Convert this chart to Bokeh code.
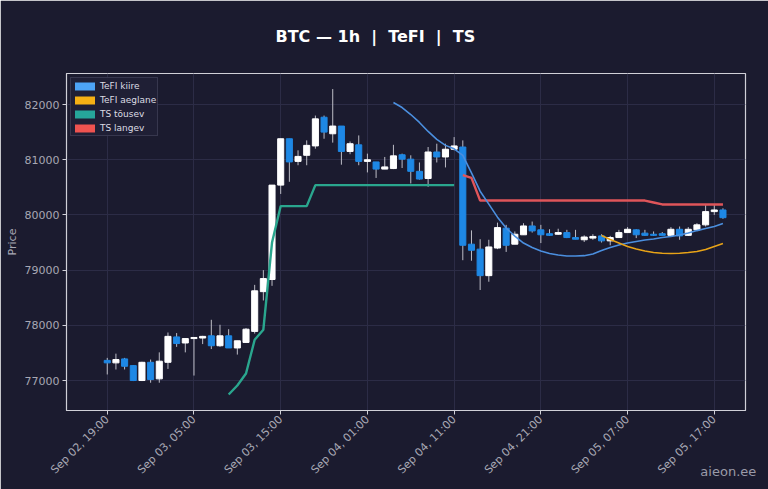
from bokeh.plotting import figure
from bokeh.models import FixedTicker, Range1d, Legend, LegendItem, ColumnDataSource
from bokeh.embed import file_html
from bokeh.resources import INLINE

# ---- data (hourly candles, hour 0 = Sep 02, 19:00) ----
tick_hours = [0, 10, 20, 30, 40, 50, 60, 70]
tick_labels = ["Sep 02, 19:00", "Sep 03, 05:00", "Sep 03, 15:00", "Sep 04, 01:00",
               "Sep 04, 11:00", "Sep 04, 21:00", "Sep 05, 07:00", "Sep 05, 17:00"]
price_ticks = [77000, 78000, 79000, 80000, 81000, 82000]

opens = [77365, 77320, 77392, 77270, 77000, 77330, 77030, 77330, 77790, 77680,
         77760, 77770, 77810, 77630, 77810, 77590, 77690, 77890, 78610, 78830,
         80540, 81380, 80970, 81080, 81250, 81770, 81470, 81610, 81150, 81270,
         80970, 80960, 80830, 80840, 81090, 81010, 80790, 80660, 81140, 81050,
         81190, 81230, 79470, 79380, 78900, 79400, 79760, 79470, 79640, 79800,
         79730, 79660, 79650, 79680, 79590, 79550, 79580, 79620, 79530, 79590,
         79680, 79730, 79670, 79650, 79660, 79630, 79740, 79630, 79730, 79820,
         80060, 80090]
highs = [77410, 77487, 77410, 77280, 77340, 77380, 77510, 77870, 77860, 77760,
         77780, 77810, 78100, 78010, 77930, 77720, 77950, 78733, 79000, 80540,
         81380, 81380, 81170, 81350, 81800, 81800, 82280, 81610, 81330, 81440,
         81110, 80960, 81050, 81270, 81110, 81080, 80950, 81230, 81290, 81290,
         81410, 81350, 79720, 79560, 79550, 79860, 79820, 79700, 79850, 79880,
         79820, 79740, 79750, 79730, 79730, 79630, 79650, 79650, 79620, 79730,
         79780, 79740, 79730, 79700, 79690, 79780, 79790, 79780, 79850, 80190,
         80180, 80120]
lows = [77110, 77200, 77200, 76990, 76990, 76960, 76960, 77210, 77610, 77510,
        77090, 77660, 77570, 77610, 77590, 77470, 77690, 77850, 78450, 78715,
        80380, 80600, 80900, 80900, 81200, 81380, 81310, 80910, 81100, 80900,
        80770, 80670, 80830, 80830, 80850, 80570, 80640, 80510, 80950, 80860,
        81170, 79180, 79170, 78640, 78790, 79380, 79330, 79470, 79640, 79680,
        79490, 79620, 79640, 79580, 79560, 79510, 79550, 79500, 79450, 79590,
        79680, 79580, 79620, 79620, 79630, 79630, 79550, 79620, 79710, 79790,
        80000, 79930]
closes = [77320, 77380, 77258, 77000, 77330, 77018, 77350, 77800, 77670, 77760,
          77780, 77800, 77630, 77810, 77590, 77720, 77930, 78625, 78847, 80540,
          81380, 80960, 81060, 81260, 81740, 81500, 81610, 81150, 81290, 80970,
          81000, 80830, 80870, 81070, 81010, 80790, 80650, 81140, 81050, 81190,
          81250, 79450, 79360, 78900, 79420, 79770, 79450, 79650, 79800, 79710,
          79640, 79630, 79680, 79590, 79560, 79600, 79610, 79530, 79590, 79680,
          79740, 79640, 79630, 79630, 79630, 79740, 79620, 79740, 79820, 80060,
          80090, 79950]

# TeFI kiire (fast) starts at hour 33
tefi_fast_start = 33
tefi_fast = [82036, 81946, 81819, 81675, 81512, 81368, 81260, 81197, 81079, 80763,
             80430, 80195, 79960, 79762, 79617, 79491, 79410, 79347, 79301, 79274,
             79256, 79256, 79262, 79292, 79355, 79410, 79455, 79491, 79518, 79545,
             79563, 79590, 79608, 79635, 79671, 79716, 79753, 79789, 79843]
# TeFI aeglane (slow) starts at hour 57
tefi_slow_start = 57
tefi_slow = [79626, 79554, 79491, 79428, 79383, 79347, 79319, 79305, 79301, 79305,
             79319, 79337, 79374, 79428, 79482]
# TS tõusev (up) starts at hour 14
ts_up_start = 14
ts_up = [76747, 76910, 77126, 77740, 77920, 79500, 80160, 80160, 80160, 80160,
         80540, 80540, 80540, 80540, 80540, 80540, 80540, 80540, 80540, 80540,
         80540, 80540, 80540, 80540, 80540, 80540, 80540]
# TS langev (down) starts at hour 41
ts_down_start = 41
ts_down = [80720, 80670, 80260, 80260, 80260, 80260, 80260, 80260, 80260, 80260,
           80260, 80260, 80260, 80260, 80260, 80260, 80260, 80260, 80260, 80260,
           80260, 80260, 80225, 80190, 80190, 80190, 80190, 80190, 80190, 80190,
           80190]

title_text = "BTC \u2014 1h \u00a0|\u00a0 TeFI \u00a0|\u00a0 TS"
legend_names = ["TeFI kiire", "TeFI aeglane", "TS t\u00f5usev", "TS langev"]
watermark_text = "aieon.ee"

# ---- styling ----
BG = "#1b1b2f"
UP = "#ffffff"
DOWN = "#1e88e5"
WICK = "#bdbdc6"
TXT = "#a8a8b4"

p = figure(width=768, height=489, output_backend="svg", toolbar_location=None,
           x_range=Range1d(-4.7, 73.6), y_range=Range1d(76457, 82562),
           min_border_left=66, min_border_right=23, min_border_top=73, min_border_bottom=79)
p.background_fill_color = BG
p.border_fill_color = BG
p.outline_line_color = "#d0d0d8"
p.outline_line_width = 1.2

p.title.text = title_text
p.title.text_color = "#ffffff"
p.title.text_font = "DejaVu Sans"
p.title.text_font_size = "16px"
p.title.text_font_style = "bold"
p.title.align = "left"
p.title.offset = 209
p.title.vertical_align = "top"
p.title.standoff = 52

n = len(opens)
xs = list(range(n))
up_idx = [i for i in xs if closes[i] >= opens[i]]
dn_idx = [i for i in xs if closes[i] < opens[i]]

wick_src = ColumnDataSource(dict(x=xs, low=lows, high=highs))
p.segment(x0="x", y0="low", x1="x", y1="high", source=wick_src, line_color=WICK, line_width=1)

up_src = ColumnDataSource(dict(x=[xs[i] for i in up_idx],
                               top=[closes[i] for i in up_idx],
                               bottom=[opens[i] for i in up_idx]))
dn_src = ColumnDataSource(dict(x=[xs[i] for i in dn_idx],
                               top=[opens[i] for i in dn_idx],
                               bottom=[closes[i] for i in dn_idx]))
p.vbar(x="x", top="top", bottom="bottom", width=0.7, source=up_src,
       fill_color=UP, line_color=UP, line_width=1)
p.vbar(x="x", top="top", bottom="bottom", width=0.7, source=dn_src,
       fill_color=DOWN, line_color=DOWN, line_width=1)

C_FAST, C_SLOW, C_UP, C_DN = "#4b8fdf", "#e8a317", "#2aa68e", "#e0555a"
p.line(list(range(ts_up_start, ts_up_start + len(ts_up))), ts_up, line_color=C_UP, line_width=2.4)
p.line(list(range(ts_down_start, ts_down_start + len(ts_down))), ts_down, line_color=C_DN, line_width=2.4)
p.line(list(range(tefi_fast_start, tefi_fast_start + len(tefi_fast))), tefi_fast, line_color=C_FAST, line_width=1.6)
p.line(list(range(tefi_slow_start, tefi_slow_start + len(tefi_slow))), tefi_slow, line_color=C_SLOW, line_width=1.6)

# legend patches (rectangles, like the reference)
legend_colors = ["#4da3f5", "#f5b014", "#26a69a", "#ef5350"]
nan = float("nan")
items = []
for name, col in zip(legend_names, legend_colors):
    r = p.quad(left=[nan], right=[nan], top=[nan], bottom=[nan], fill_color=col, line_color=None)
    items.append(LegendItem(label=name, renderers=[r]))
legend = Legend(items=items, location="top_left", margin=4, padding=1, spacing=1,
                glyph_width=25, glyph_height=10, label_height=13, label_standoff=3,
                label_text_font_size="9px", label_text_color="#dcdce4",
                label_text_font="DejaVu Sans",
                background_fill_color="#202036", background_fill_alpha=0.95,
                border_line_color="#505068", border_line_width=1)
p.add_layout(legend, "center")

# axes
p.xaxis.ticker = FixedTicker(ticks=tick_hours)
p.xaxis.major_label_overrides = {h: l for h, l in zip(tick_hours, tick_labels)}
p.xaxis.major_label_orientation = 0.785398
p.yaxis.ticker = FixedTicker(ticks=price_ticks)
p.yaxis.major_label_overrides = {v: str(v) for v in price_ticks}
p.yaxis.axis_label = "Price"
for ax in (p.xaxis, p.yaxis):
    ax.axis_line_color = "#d0d0d8"
    ax.major_tick_line_color = "#d0d0d8"
    ax.major_tick_out = 4
    ax.major_tick_in = 0
    ax.minor_tick_line_color = None
    ax.major_label_text_color = TXT
    ax.major_label_text_font = "DejaVu Sans"
    ax.major_label_standoff = 3
    ax.major_label_text_font_size = "11px"
p.yaxis.axis_label_text_font = "DejaVu Sans"
p.yaxis.axis_label_text_font_size = "11px"
p.yaxis.axis_label_text_font_style = "normal"
p.yaxis.axis_label_text_color = TXT
p.yaxis.axis_label_standoff = 3

# watermark carried by the x axis label (padded so it sits at the bottom right)
p.xaxis.axis_label = "\u00a0" * 156 + watermark_text
p.xaxis.axis_label_text_font = "DejaVu Sans"
p.xaxis.axis_label_text_font_size = "13px"
p.xaxis.axis_label_text_font_style = "normal"
p.xaxis.axis_label_text_color = "#9a9aa8"
p.xaxis.axis_label_standoff = -20

p.xgrid.ticker = FixedTicker(ticks=tick_hours)
p.ygrid.ticker = FixedTicker(ticks=price_ticks)
p.grid.grid_line_color = "#2c2c46"
p.grid.grid_line_width = 1

open("out.html", "w").write(file_html(p, INLINE))
